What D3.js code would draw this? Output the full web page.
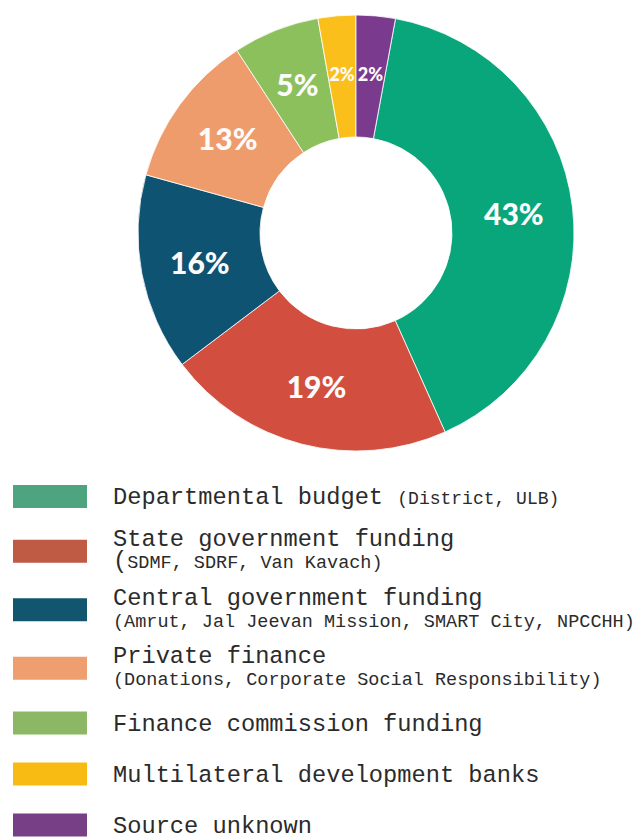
<!DOCTYPE html>
<html>
<head>
<meta charset="utf-8">
<script src="https://cdn.jsdelivr.net/npm/d3@7"></script>
<style>
  body { margin: 0; background: #fff; }
  svg { display: block; }
</style>
</head>
<body>
<div id="chart"></div>
<script>
const width = 637;
const height = 837;

// legend order; arc sizes, labels as printed
const categories = ['Departmental budget', 'State government funding', 'Central government funding',
    'Private finance', 'Finance commission funding', 'Multilateral development banks', 'Source unknown'];
const notes = ['(District, ULB)', '(SDMF, SDRF, Van Kavach)', '(Amrut, Jal Jeevan Mission, SMART City, NPCCHH)',
    '(Donations, Corporate Social Responsibility)', null, null, null];
const shares = [40.4, 21.4, 14.6, 11.5, 6.4, 2.8, 2.9];
const labels = ['43%', '19%', '16%', '13%', '5%', '2%', '2%'];

const sliceColors = ['#0aa67b', '#d24f3f', '#0f5373', '#ef9c6c', '#8cc05c', '#fbbf1b', '#7a3a8e'];
const swatchColors = ['#4da47e', '#bf5a45', '#12556f', '#ef9e6f', '#8cb866', '#f8bb14', '#773f86'];

const svg = d3.select('#chart').append('svg')
    .attr('width', width)
    .attr('height', height);

// donut
const cx = 356, cy = 233;
const outerR = 218, innerR = 96;
const total = d3.sum(shares);
const start = 2 * Math.PI * shares[shares.length - 1] / total;

const pie = d3.pie()
    .sort(null)
    .value(d => d)
    .startAngle(start)
    .endAngle(start + 2 * Math.PI);

const arc = d3.arc().innerRadius(innerR).outerRadius(outerR);
const labelArc = d3.arc().innerRadius(159).outerRadius(159);

const gPie = svg.append('g').attr('transform', `translate(${cx},${cy})`);
const arcs = pie(shares);

gPie.selectAll('path')
    .data(arcs)
    .enter()
    .append('path')
    .attr('d', arc)
    .attr('fill', (d, i) => sliceColors[i])
    .attr('stroke', '#fff')
    .attr('stroke-width', 0.8);

gPie.selectAll('text')
    .data(arcs)
    .enter()
    .append('text')
    .attr('transform', d => `translate(${labelArc.centroid(d)})`)
    .attr('text-anchor', 'middle')
    .attr('dy', '0.36em')
    .attr('fill', '#fbfbfb')
    .style('font-family', 'Lato, "Open Sans", sans-serif')
    .style('font-weight', 900)
    .style('font-size', d => d.value < 4 ? '18px' : '30px')
    .text((d, i) => labels[i]);

// legend
const rowH = i => notes[i] && i > 0 ? 58.5 : 51;
const centers = [];
categories.forEach((c, i) => {
    centers.push(i === 0 ? 496.5 : centers[i - 1] + (rowH(i - 1) + rowH(i)) / 2);
});

const gLeg = svg.append('g')
    .style('font-family', '"Liberation Mono", "DejaVu Sans Mono", monospace')
    .attr('fill', '#2b2b2b');

const item = gLeg.selectAll('g')
    .data(categories)
    .enter()
    .append('g')
    .attr('transform', (d, i) => `translate(0,${centers[i]})`);

item.append('rect')
    .attr('x', 13)
    .attr('y', -11.5)
    .attr('width', 74)
    .attr('height', 23)
    .attr('fill', (d, i) => swatchColors[i]);

item.each(function (d, i) {
    const g = d3.select(this);
    const note = notes[i];
    if (i === 0) {
        const t = g.append('text').attr('x', 113).attr('y', 7.5);
        t.append('tspan').style('font-size', '23.7px').text(d + '\u00a0');
        t.append('tspan').style('font-size', '18px').text(note);
    } else if (note) {
        g.append('text').attr('x', 113).attr('y', -5)
            .style('font-size', '23.7px').text(d);
        const t = g.append('text').attr('x', 113).attr('y', 17);
        if (i === 1) {
            // the opening bracket sits at the heading size here
            t.append('tspan').style('font-size', '23.7px').text(note[0]);
            t.append('tspan').style('font-size', '18.5px').text(note.slice(1));
        } else {
            t.append('tspan').style('font-size', '18.5px').text(note);
        }
    } else {
        g.append('text').attr('x', 113).attr('y', 8)
            .style('font-size', '23.7px').text(d);
    }
});
</script>
</body>
</html>
